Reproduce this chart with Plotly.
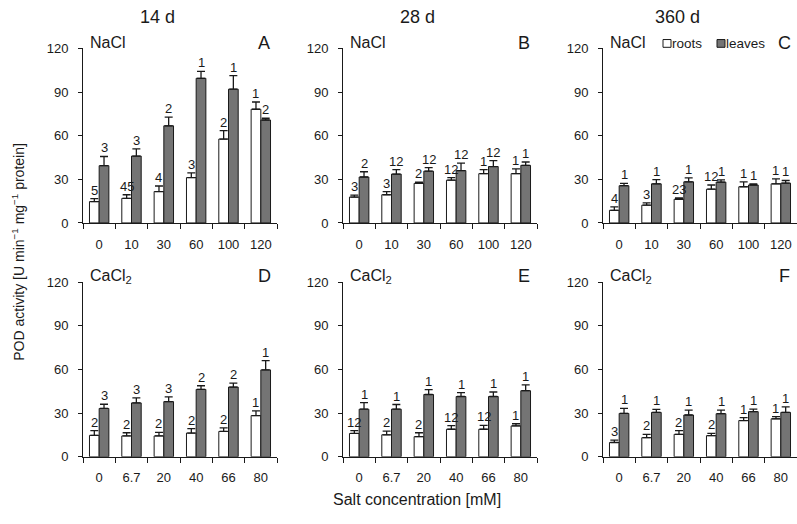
import plotly.graph_objects as go

W, H = 797, 524

nacl_conc = ["0", "10", "30", "60", "100", "120"]
cacl2_conc = ["0", "6.7", "20", "40", "66", "80"]

# A: NaCl, 14 d
a_roots = [14.7, 16.9, 21.6, 31.2, 57.7, 78.2]
a_roots_err = [2.0, 2.5, 3.8, 3.3, 5.8, 5.0]
a_leaves = [39.4, 46.0, 66.8, 99.5, 92.0, 70.8]
a_leaves_err = [6.3, 5.0, 6.0, 4.7, 9.3, 1.2]
a_roots_lbl = ["5", "45", "4", "3", "2", "1"]
a_leaves_lbl = ["3", "3", "2", "1", "1", "2"]

# B: NaCl, 28 d
b_roots = [17.8, 19.4, 27.2, 29.4, 33.9, 33.9]
b_roots_err = [1.4, 2.2, 0.9, 1.8, 2.8, 3.3]
b_leaves = [31.6, 33.6, 35.6, 36.0, 38.8, 39.6]
b_leaves_err = [3.6, 3.1, 2.5, 5.2, 4.0, 2.3]
b_roots_lbl = ["3", "3", "2", "12", "1", "1"]
b_leaves_lbl = ["2", "12", "12", "12", "12", "1"]

# C: NaCl, 360 d
c_roots = [8.7, 12.2, 16.3, 23.2, 24.9, 26.9]
c_roots_err = [2.4, 1.6, 0.9, 2.9, 3.4, 3.4]
c_leaves = [25.6, 26.9, 28.3, 28.1, 26.1, 27.4]
c_leaves_err = [1.6, 2.9, 2.7, 1.5, 0.8, 1.8]
c_roots_lbl = ["4", "3", "23", "12", "1", "1"]
c_leaves_lbl = ["1", "1", "1", "1", "1", "1"]

# D: CaCl2, 14 d
d_roots = [14.7, 14.3, 14.3, 16.3, 17.4, 28.3]
d_roots_err = [3.3, 2.2, 2.4, 3.0, 2.4, 3.3]
d_leaves = [33.2, 37.0, 37.9, 46.3, 47.9, 59.7]
d_leaves_err = [2.9, 3.5, 3.3, 2.5, 2.7, 6.4]
d_roots_lbl = ["2", "2", "2", "2", "2", "1"]
d_leaves_lbl = ["3", "3", "3", "2", "2", "1"]

# E: CaCl2, 28 d
e_roots = [16.0, 15.1, 13.8, 18.9, 18.9, 21.2]
e_roots_err = [2.0, 2.5, 2.7, 2.5, 2.7, 1.5]
e_leaves = [32.7, 32.7, 42.8, 41.4, 41.4, 45.4]
e_leaves_err = [4.5, 3.2, 3.3, 2.7, 3.1, 4.0]
e_roots_lbl = ["12", "2", "2", "12", "12", "1"]
e_leaves_lbl = ["1", "1", "1", "1", "1", "1"]

# F: CaCl2, 360 d
f_roots = [9.8, 13.1, 15.4, 14.5, 24.9, 26.1]
f_roots_err = [1.6, 2.3, 2.6, 1.5, 2.0, 1.5]
f_leaves = [29.8, 30.5, 28.7, 29.6, 31.0, 30.5]
f_leaves_err = [3.4, 2.0, 3.4, 2.5, 1.7, 3.8]
f_roots_lbl = ["3", "2", "2", "2", "1", "1"]
f_leaves_lbl = ["1", "1", "1", "1", "1", "1"]

panels = [
    ("A", "NaCl", nacl_conc, a_roots, a_roots_err, a_leaves, a_leaves_err, a_roots_lbl, a_leaves_lbl),
    ("B", "NaCl", nacl_conc, b_roots, b_roots_err, b_leaves, b_leaves_err, b_roots_lbl, b_leaves_lbl),
    ("C", "NaCl", nacl_conc, c_roots, c_roots_err, c_leaves, c_leaves_err, c_roots_lbl, c_leaves_lbl),
    ("D", "CaCl<sub>2</sub>", cacl2_conc, d_roots, d_roots_err, d_leaves, d_leaves_err, d_roots_lbl, d_leaves_lbl),
    ("E", "CaCl<sub>2</sub>", cacl2_conc, e_roots, e_roots_err, e_leaves, e_leaves_err, e_roots_lbl, e_leaves_lbl),
    ("F", "CaCl<sub>2</sub>", cacl2_conc, f_roots, f_roots_err, f_leaves, f_leaves_err, f_roots_lbl, f_leaves_lbl),
]
day_titles = ["14 d", "28 d", "360 d"]

FONT = "Liberation Sans, Arial, sans-serif"
INK = "#1a1a1a"
GRAY = "#747474"


def px(x):
    return x / W


def py(y):
    return 1 - y / H


# pixel layout of the panel grid
col_left = [83, 343, 603]
col_width = 194
row_zero = [222.3, 463.0]
row_top = [42.7, 283.3]

fig = go.Figure()
annotations = []
layout_axes = {}

for k, (letter, salt, conc, roots, roots_err, leaves, leaves_err, r_lbl, l_lbl) in enumerate(panels):
    row, col = divmod(k, 3)
    n = k + 1
    xa = "x" if n == 1 else f"x{n}"
    ya = "y" if n == 1 else f"y{n}"
    xkey = "xaxis" if n == 1 else f"xaxis{n}"
    ykey = "yaxis" if n == 1 else f"yaxis{n}"

    fig.add_trace(go.Bar(
        x=conc, y=roots, xaxis=xa, yaxis=ya, name="roots",
        marker=dict(color="white", line=dict(color=INK, width=1)),
        error_y=dict(type="data", symmetric=False, array=roots_err,
                     arrayminus=[0] * len(roots), color=INK, thickness=1.3, width=4),
        showlegend=False, hoverinfo="skip",
    ))
    fig.add_trace(go.Bar(
        x=conc, y=leaves, xaxis=xa, yaxis=ya, name="leaves",
        marker=dict(color=GRAY, line=dict(color=INK, width=1)),
        error_y=dict(type="data", symmetric=False, array=leaves_err,
                     arrayminus=[0] * len(leaves), color=INK, thickness=1.3, width=4),
        showlegend=False, hoverinfo="skip",
    ))

    x0 = col_left[col]
    layout_axes[xkey] = dict(
        domain=[px(x0), px(x0 + col_width)], anchor=ya, type="category",
        range=[-0.5, 5.5], showline=True, linecolor=INK, linewidth=1,
        ticks="outside", tickson="boundaries", ticklen=5, tickcolor=INK,
        ticklabelstandoff=9, showgrid=False, zeroline=False,
        tickfont=dict(family=FONT, size=13, color=INK),
    )
    layout_axes[ykey] = dict(
        domain=[py(row_zero[row]), py(row_top[row])], anchor=xa,
        range=[0, 120], tickvals=[0, 30, 60, 90, 120], showline=True,
        linecolor=INK, linewidth=1, ticks="outside", ticklen=4, tickcolor=INK,
        ticklabelstandoff=7, showgrid=False, zeroline=False,
        tickfont=dict(family=FONT, size=13, color=INK),
    )

    # significance labels above the error bars
    for i in range(len(conc)):
        for off, val, err, lbl in ((-0.15, roots[i], roots_err[i], r_lbl[i]),
                                   (0.15, leaves[i], leaves_err[i], l_lbl[i])):
            annotations.append(dict(
                x=i + off, y=val + err, xref=xa, yref=ya, text=lbl,
                showarrow=False, yanchor="bottom", yshift=-1,
                font=dict(family=FONT, size=13, color=INK),
            ))

    # salt name and panel letter
    annotations.append(dict(
        x=px(x0 + 5), y=py(row_top[row] - 6), xref="paper", yref="paper",
        text=salt, showarrow=False, xanchor="left", yanchor="middle",
        font=dict(family=FONT, size=16, color=INK),
    ))
    annotations.append(dict(
        x=px(x0 + 181), y=py(row_top[row] - 6), xref="paper", yref="paper",
        text=letter, showarrow=False, xanchor="center", yanchor="middle",
        font=dict(family=FONT, size=18, color=INK),
    ))

for col, title in enumerate(day_titles):
    annotations.append(dict(
        x=px(col_left[col] + 74), y=py(10), xref="paper", yref="paper",
        text=title, showarrow=False, xanchor="center", yanchor="middle",
        font=dict(family=FONT, size=18, color=INK),
    ))

annotations.append(dict(
    x=px(18), y=py(252), xref="paper", yref="paper", textangle=-90,
    text="POD activity [U min<sup>\u22121</sup> mg<sup>\u22121</sup> protein]",
    showarrow=False, xanchor="center", yanchor="middle",
    font=dict(family=FONT, size=14, color=INK),
))
annotations.append(dict(
    x=px(417), y=py(507), xref="paper", yref="paper",
    text="Salt concentration [mM]", showarrow=False,
    xanchor="center", yanchor="middle",
    font=dict(family=FONT, size=16, color=INK),
))

# legend drawn inside panel C
shapes = []
for sx, fill, label in ((663, "white", "roots"), (717, GRAY, "leaves")):
    shapes.append(dict(
        type="rect", xref="paper", yref="paper",
        x0=px(sx), x1=px(sx + 8), y0=py(41.5), y1=py(33.5),
        fillcolor=fill, line=dict(color=INK, width=1),
    ))
    annotations.append(dict(
        x=px(sx + 7), y=py(37.5), xref="paper", yref="paper", text=label,
        showarrow=False, xanchor="left", yanchor="middle",
        font=dict(family=FONT, size=13.5, color=INK),
    ))

fig.update_layout(
    width=W, height=H, margin=dict(l=0, r=0, t=0, b=0),
    paper_bgcolor="white", plot_bgcolor="white",
    barmode="group", bargap=0.4, bargroupgap=0,
    annotations=annotations, shapes=shapes,
    **layout_axes,
)

# drop the page's default body margin so the figure fills the window
fig.write_html("out.html", config={"displayModeBar": False},
               post_script="document.body.style.margin='0';")
